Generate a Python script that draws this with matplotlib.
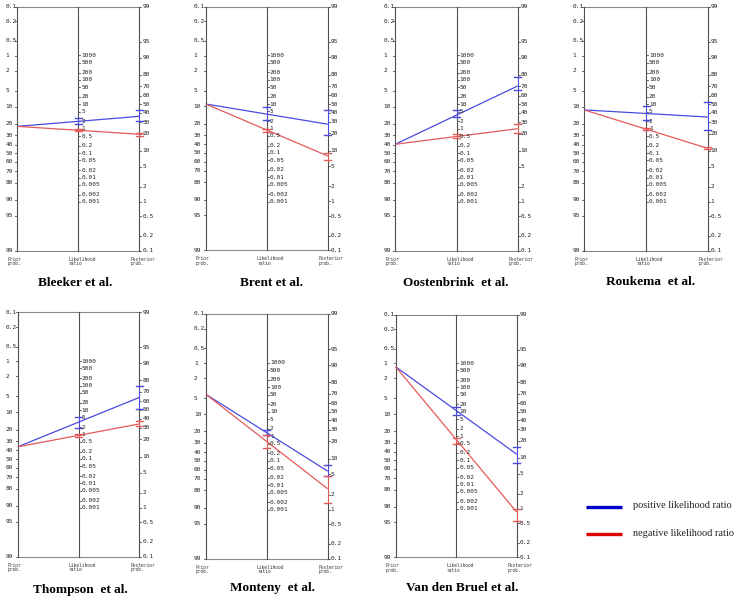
import numpy as np
import matplotlib
matplotlib.use('Agg')
import matplotlib.pyplot as plt

W, H = 747, 600

# ---------------- data ----------------
studies = ["Bleeker et al.", "Brent et al.", "Oostenbrink  et al.", "Roukema  et al.",
           "Thompson  et al.", "Monteny  et al.", "Van den Bruel et al."]
prior_pct = [22.0, 9.0, 39.6, 11.5, 36.0, 4.2, 1.17]
lr_pos = [2.0, 3.9, 3.6, 4.2, 3.2, 1.4, 11.2]
lr_pos_lo = [1.6, 2.3, 3.0, 2.3, 1.9, 1.13, 7.3]
lr_pos_hi = [2.7, 7.7, 5.6, 8.5, 5.4, 1.9, 16.0]
lr_neg = [0.86, 0.87, 0.48, 0.96, 0.92, 0.61, 0.72]
lr_neg_lo = [0.78, 0.73, 0.40, 0.91, 0.82, 0.32, 0.47]
lr_neg_hi = [0.93, 1.0, 0.59, 1.03, 1.05, 1.13, 0.85]

prior_ticks = [0.1, 0.2, 0.5, 1, 2, 5, 10, 20, 30, 40, 50, 60, 70, 80, 90, 95, 99]
prior_labels = ["0.1", "0.2", "0.5", "1", "2", "5", "10", "20", "30", "40", "50",
                "60", "70", "80", "90", "95", "99"]
lr_ticks = [1000, 500, 200, 100, 50, 20, 10, 5, 2, 1, 0.5, 0.2, 0.1, 0.05, 0.02,
            0.01, 0.005, 0.002, 0.001]
lr_labels = ["1000", "500", "200", "100", "50", "20", "10", "5", "2", "1", "0.5", "0.2",
             "0.1", "0.05", "0.02", "0.01", "0.005", "0.002", "0.001"]
post_ticks = [99, 95, 90, 80, 70, 60, 50, 40, 30, 20, 10, 5, 2, 1, 0.5, 0.2, 0.1]
post_labels = ["99", "95", "90", "80", "70", "60", "50", "40", "30", "20", "10", "5",
               "2", "1", "0.5", "0.2", "0.1"]
legend_labels = ["positive likelihood ratio", "negative likelihood ratio"]

# ---------------- layout (pixels) ----------------
frames = [(17.3, 139.3, 6.7, 250.7), (205.7, 327.7, 6.7, 250.3),
          (395.3, 517.7, 6.7, 250.7), (584.3, 707.7, 6.7, 250.7),
          (17.7, 139.3, 312.3, 556.7), (206.0, 327.7, 314.0, 558.7),
          (395.7, 516.7, 314.7, 557.3)]
title_pos = [(75, 283), (271, 283), (456, 283), (651, 282),
             (80, 590), (272, 588), (462, 588)]

POS_C = '#4a4ae0'
NEG_C = '#e45a5a'
AX_C = '#505050'


def logit(p):
    return np.log(p / (1 - p))


C = (np.log(999) - np.log(99)) / 2
YM = np.log(999) - C


def yL(p):
    return -logit(p) - C


def yR(p):
    return logit(p) + C


def yM(lr):
    return np.log(lr) / 2


def post(p, lr):
    o = p / (1 - p) * lr
    return o / (1 + o)


fig = plt.figure(figsize=(W / 100, H / 100), dpi=100)
fig.patch.set_facecolor('white')

over = fig.add_axes([0, 0, 1, 1])
over.set_xlim(0, W)
over.set_ylim(H, 0)
over.axis('off')

tick_font = dict(family='DejaVu Sans Mono', fontsize=4.4, color='#222222')
small_font = dict(family='DejaVu Sans Mono', fontsize=3.3, color='#333333')

for i, name in enumerate(studies):
    xl, xr, yt, yb = frames[i]
    ax = fig.add_axes([xl / W, 1 - yb / H, (xr - xl) / W, (yb - yt) / H])
    ax.set_xlim(0, 2)
    ax.set_ylim(-YM, YM)
    ax.axis('off')
    pxu = (xr - xl) / 2.0  # pixels per x unit
    d = lambda px: px / pxu

    # frame
    ax.plot([0, 2], [YM, YM], color='#888888', lw=0.8, clip_on=False)
    ax.plot([0, 2], [-YM, -YM], color='#888888', lw=0.8, clip_on=False)
    for xx in (0, 1, 2):
        ax.plot([xx, xx], [-YM, YM], color=AX_C, lw=0.8, clip_on=False)

    # left axis
    for v, lab in zip(prior_ticks, prior_labels):
        y = yL(v / 100)
        ax.plot([-d(2), 0], [y, y], color=AX_C, lw=0.6, clip_on=False)
        ax.annotate(lab, xy=(0, y), xytext=(-12, 0), textcoords='offset pixels',
                    ha='left', va='center', **tick_font)
    # middle axis
    for v, lab in zip(lr_ticks, lr_labels):
        y = yM(v)
        ax.plot([1, 1 + d(2)], [y, y], color=AX_C, lw=0.6, clip_on=False)
        ax.annotate(lab, xy=(1, y), xytext=(3, 0), textcoords='offset pixels',
                    ha='left', va='center', **tick_font)
    # right axis
    for v, lab in zip(post_ticks, post_labels):
        y = yR(v / 100)
        ax.plot([2, 2 + d(2)], [y, y], color=AX_C, lw=0.6, clip_on=False)
        ax.annotate(lab, xy=(2, y), xytext=(3, 0), textcoords='offset pixels',
                    ha='left', va='center', **tick_font)

    # axis names
    ax.annotate("Prior\nprob.", xy=(0, -YM), xytext=(-10, -6), textcoords='offset pixels',
                ha='left', va='top', linespacing=0.9, **small_font)
    ax.annotate("Likelihood\nratio", xy=(1, -YM), xytext=(-10, -6), textcoords='offset pixels',
                ha='left', va='top', linespacing=0.9, **small_font)
    ax.annotate("Posterior\nprob.", xy=(2, -YM), xytext=(-9, -6), textcoords='offset pixels',
                ha='left', va='top', linespacing=0.9, **small_font)

    p0 = prior_pct[i] / 100
    for lr, lo, hi, col in ((lr_pos[i], lr_pos_lo[i], lr_pos_hi[i], POS_C),
                            (lr_neg[i], lr_neg_lo[i], lr_neg_hi[i], NEG_C)):
        ax.plot([0, 2], [yL(p0), yR(post(p0, lr))], color=col, lw=0.9,
                clip_on=False, solid_capstyle='butt')
        for b in (lo, hi):
            ym = yM(b)
            yr = yR(post(p0, b))
            ax.plot([1 - d(3.5), 1 + d(3.5)], [ym, ym], color=col, lw=1.0, clip_on=False)
            ax.plot([2 - d(3.5), 2 + d(3.5)], [yr, yr], color=col, lw=1.0, clip_on=False)
        ax.plot([1, 1], [yM(lo), yM(hi)], color=col, lw=0.7, clip_on=False)
        ax.plot([2, 2], [yR(post(p0, lo)), yR(post(p0, hi))], color=col, lw=0.7,
                clip_on=False)

    tx, ty = title_pos[i]
    over.text(tx, ty, name, ha='center', va='center', family='Liberation Serif',
              fontweight='bold', fontsize=9.5, color='black')

# legend
over.plot([586, 622], [507, 507], color='#0000c8', lw=2.4, solid_capstyle='butt')
over.plot([586, 622], [534, 534], color='#dd0000', lw=2.4, solid_capstyle='butt')
over.text(633, 506, legend_labels[0], ha='left', va='center', family='Liberation Serif',
          fontsize=7.4, color='#222222')
over.text(633, 533, legend_labels[1], ha='left', va='center', family='Liberation Serif',
          fontsize=7.4, color='#222222')

fig.savefig('out.png', dpi=100, facecolor='white')
